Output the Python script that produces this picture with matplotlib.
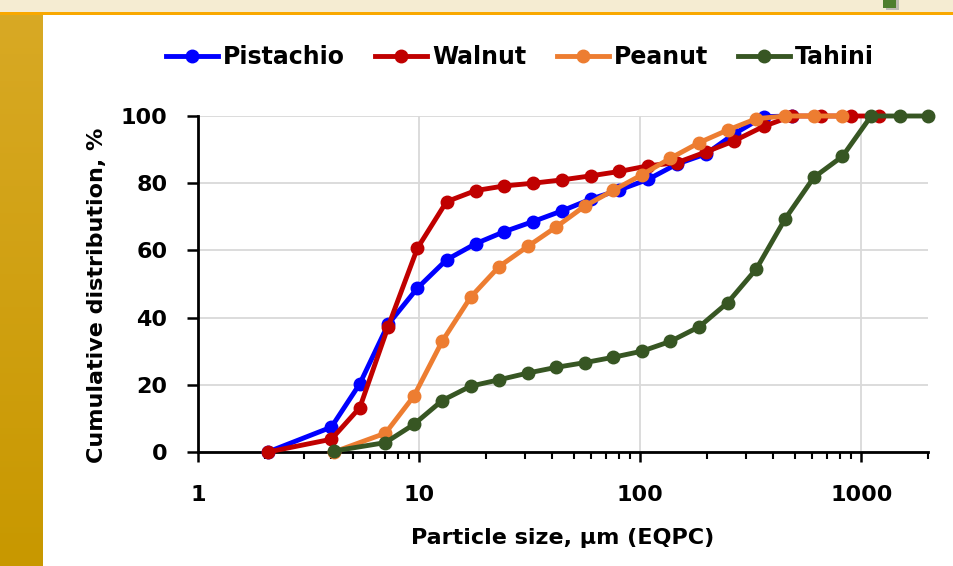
"""
Cumulative particle size distribution of nut pastes (log x axis).
"""
import numpy as np
import matplotlib
matplotlib.use("Agg")
import matplotlib.pyplot as plt
import matplotlib.patches as mpatches
from matplotlib.ticker import LogLocator, NullFormatter, FixedLocator

# size classes, um (two instrument grids)
size_a = [2.07, 4.01, 5.39, 7.24, 9.83, 13.3, 18.0, 24.3, 32.8, 44.4, 59.9,
          80.5, 108.9, 146.5, 198, 266, 361, 486, 657, 893, 1199]
size_b = [4.12, 7.04, 9.46, 12.7, 17.1, 23.0, 31.0, 41.7, 56.1, 75.6, 101.7,
          136.6, 185, 248, 335, 452, 609, 821, 1107, 1488, 2000]

pistachio = [0, 7.4, 20.3, 38.0, 48.8, 57.2, 62.0, 65.6, 68.6, 71.8, 75.3,
             78.0, 81.2, 85.7, 88.7, 94.7, 99.8, 100]
walnut = [0, 3.8, 13.2, 37.3, 60.7, 74.5, 77.8, 79.2, 80.0, 81.0, 82.2,
          83.5, 85.2, 86.1, 89.3, 92.6, 96.9, 100, 100, 100, 100]
peanut = [0, 5.6, 16.6, 32.9, 46.1, 55.2, 61.2, 67.0, 73.2, 77.9, 82.5,
          87.4, 92.1, 95.8, 99.2, 100, 100, 100]
tahini = [0.3, 2.8, 8.2, 15.3, 19.6, 21.5, 23.5, 25.2, 26.6, 28.2, 30.0,
          32.9, 37.3, 44.4, 54.5, 69.4, 81.7, 88.0, 100, 100, 100]

series = [
    ("Pistachio", size_a, pistachio, "#0000FF"),
    ("Walnut", size_a, walnut, "#C00000"),
    ("Peanut", size_b, peanut, "#ED7D31"),
    ("Tahini", size_b, tahini, "#375623"),
]

plt.rcParams["font.family"] = ["DejaVu Sans"]
plt.rcParams["font.weight"] = "bold"

W, H = 954, 566
fig = plt.figure(figsize=(W / 100, H / 100), dpi=100)

# page decoration: cream top band, orange rule, gold side strip
bg = fig.add_axes([0, 0, 1, 1], zorder=-5)
bg.axis("off")
bg.add_patch(mpatches.Rectangle((0, 0), W, 12, color="#F5ECD2", lw=0))
bg.add_patch(mpatches.Rectangle((0, 12), W, 3, color="#F9A800", lw=0))
grad = np.linspace(0, 1, 100).reshape(-1, 1)
gold = plt.matplotlib.colors.LinearSegmentedColormap.from_list(
    "gold", ["#D8A924", "#C89800"])
bg.imshow(grad, cmap=gold, extent=(0, 43, H, 15), aspect="auto")
bg.add_patch(mpatches.Rectangle((886, 0), 13, 10, color="#9A9A9A", lw=0, alpha=0.6))
bg.add_patch(mpatches.Rectangle((883, 0), 13, 8, color="#4E7E2E", lw=0))
bg.set_xlim(0, W)
bg.set_ylim(H, 0)

x0, x1, y0, y1 = 198, 928, 116, 452
ax = fig.add_axes([x0 / W, 1 - y1 / H, (x1 - x0) / W, (y1 - y0) / H])

for name, xs, ys, color in series:
    ax.plot(xs[:len(ys)], ys, color=color, lw=3.5, marker="o", ms=9,
            label=name, clip_on=False, zorder=3)

ax.set_xscale("log")
ax.set_xlim(1, 2000)
ax.set_ylim(0, 100)
ax.set_yticks([0, 20, 40, 60, 80, 100])
ax.xaxis.set_major_locator(FixedLocator([1, 10, 100, 1000]))
ax.set_xticklabels(["1", "10", "100", "1000"])
ax.xaxis.set_minor_locator(LogLocator(base=10, subs=np.arange(2, 10), numticks=20))
ax.xaxis.set_minor_formatter(NullFormatter())

ax.grid(True, which="major", color="#D9D9D9", lw=1.3, zorder=0)
ax.set_axisbelow(True)
for side in ("top", "right"):
    ax.spines[side].set_visible(False)
for side in ("left", "bottom"):
    ax.spines[side].set_linewidth(2)
    ax.spines[side].set_zorder(2.5)

ax.tick_params(axis="x", which="major", direction="out", length=7, width=1.8,
               pad=17, labelsize=16)
ax.tick_params(axis="x", which="minor", direction="out", length=5, width=1.5)
ax.tick_params(axis="y", which="major", direction="out", length=8, width=1.8,
               pad=14, labelsize=16)

ax.set_xlabel("Particle size, µm (EQPC)", fontsize=16, fontweight="bold")
ax.set_ylabel("Cumulative distribution, %", fontsize=16, fontweight="bold")
ax.xaxis.set_label_coords(0.5, -0.226)
ax.yaxis.set_label_coords(-0.124, 0.467)

fig.legend(loc="center", bbox_to_anchor=(520 / W, 1 - 57 / H), ncol=4,
           frameon=False, fontsize=17, handlelength=2.2, handletextpad=0.2,
           columnspacing=1.3)

fig.savefig("out.png", dpi=100)
plt.close(fig)
